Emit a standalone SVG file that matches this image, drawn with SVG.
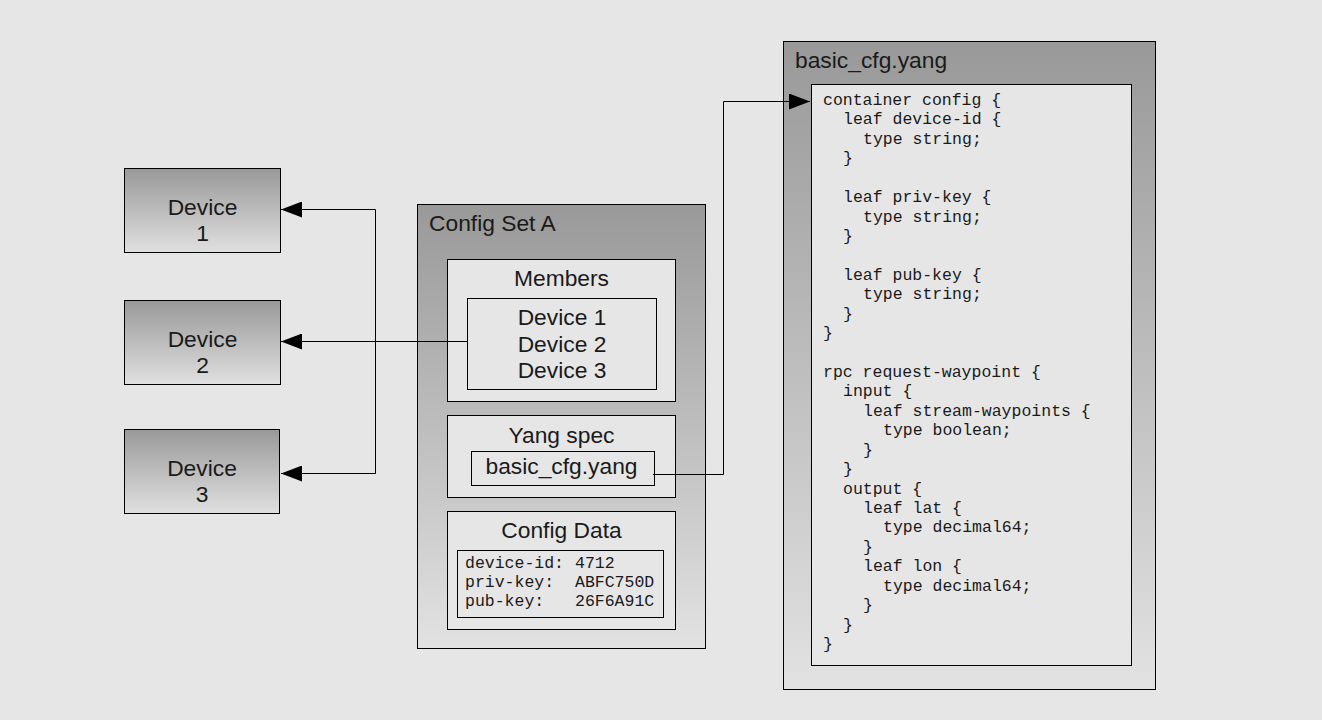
<svg xmlns="http://www.w3.org/2000/svg" width="1322" height="720" viewBox="0 0 1322 720">
<defs>
<linearGradient id="gDev" x1="0" y1="0" x2="0" y2="1">
<stop offset="0" stop-color="#999999"/>
<stop offset="1" stop-color="#e0e0e0"/>
</linearGradient>
<linearGradient id="gBig" x1="0" y1="0" x2="0" y2="1">
<stop offset="0" stop-color="#999999"/>
<stop offset="1" stop-color="#e2e2e2"/>
</linearGradient>
<marker id="arr" markerUnits="userSpaceOnUse" markerWidth="22" markerHeight="16" refX="21" refY="8" orient="auto">
<path d="M0,0 L21,8 L0,16 Z" fill="#000"/>
</marker>
</defs>
<style>
.sans{font-family:"Liberation Sans",Arial,sans-serif;font-size:22.8px;fill:#1a1a1a}
.mid{text-anchor:middle}
.mono{font-family:"Liberation Mono","Courier New",monospace;font-size:16.5px;fill:#1a1a1a}
.box{stroke:#000;stroke-width:1}
.light{fill:#e6e6e6;stroke:#000;stroke-width:1}
.conn{fill:none;stroke:#000;stroke-width:1}
</style>
<rect width="1322" height="720" fill="#e6e6e6"/>

<g id="device1">
<rect x="124.5" y="168.5" width="156" height="84" fill="url(#gDev)" class="box"/>
<text class="sans mid" x="202.5" y="215">Device</text>
<text class="sans mid" x="202.5" y="241">1</text>
</g>
<g id="device2">
<rect x="124.5" y="300.5" width="156" height="84" fill="url(#gDev)" class="box"/>
<text class="sans mid" x="202.5" y="347">Device</text>
<text class="sans mid" x="202.5" y="373">2</text>
</g>
<g id="device3">
<rect x="124.5" y="429.5" width="155" height="84" fill="url(#gDev)" class="box"/>
<text class="sans mid" x="202" y="476">Device</text>
<text class="sans mid" x="202" y="502">3</text>
</g>

<g id="configSetA">
<rect x="417.5" y="204.5" width="288" height="444" fill="url(#gBig)" class="box"/>
<text class="sans" x="429" y="231">Config Set A</text>
</g>
<g id="members">
<rect x="447.5" y="259.5" width="228" height="142" class="light"/>
<text class="sans mid" x="561.5" y="286">Members</text>
<rect x="467.5" y="298.5" width="189" height="91" class="light"/>
<text class="sans mid" x="562" y="325">Device 1</text>
<text class="sans mid" x="562" y="352">Device 2</text>
<text class="sans mid" x="562" y="378">Device 3</text>
</g>
<g id="yangSpec">
<rect x="447.5" y="415.5" width="228" height="82" class="light"/>
<text class="sans mid" x="561.5" y="443">Yang spec</text>
<rect x="471.5" y="451.5" width="183" height="34" class="light"/>
<text class="sans mid" x="561.5" y="474">basic_cfg.yang</text>
</g>
<g id="configData">
<rect x="447.5" y="511.5" width="228" height="118" class="light"/>
<text class="sans mid" x="561.5" y="538">Config Data</text>
<rect x="457.5" y="550.5" width="206" height="67" class="light"/>
<text class="mono" x="465" y="568">device-id:</text>
<text class="mono" x="575" y="568">4712</text>
<text class="mono" x="465" y="587">priv-key:</text>
<text class="mono" x="575" y="587">ABFC750D</text>
<text class="mono" x="465" y="606">pub-key:</text>
<text class="mono" x="575" y="606">26F6A91C</text>
</g>

<g id="basicCfgYang">
<rect x="783.5" y="41.5" width="372" height="648" fill="url(#gBig)" class="box"/>
<text class="sans" x="795" y="68">basic_cfg.yang</text>
<rect x="811.5" y="84.5" width="320" height="581" class="light"/>
<g class="mono">
<text x="823" y="105">container config {</text>
<text x="843" y="124.4">leaf device-id {</text>
<text x="863" y="143.9">type string;</text>
<text x="843" y="163.3">}</text>
<text x="843" y="202.1">leaf priv-key {</text>
<text x="863" y="221.6">type string;</text>
<text x="843" y="241">}</text>
<text x="843" y="279.9">leaf pub-key {</text>
<text x="863" y="299.3">type string;</text>
<text x="843" y="318.7">}</text>
<text x="823" y="338.1">}</text>
<text x="823" y="377">rpc request-waypoint {</text>
<text x="843" y="396.4">input {</text>
<text x="863" y="415.9">leaf stream-waypoints {</text>
<text x="883" y="435.3">type boolean;</text>
<text x="863" y="454.7">}</text>
<text x="843" y="474.1">}</text>
<text x="843" y="493.6">output {</text>
<text x="863" y="513">leaf lat {</text>
<text x="883" y="532.4">type decimal64;</text>
<text x="863" y="551.9">}</text>
<text x="863" y="571.3">leaf lon {</text>
<text x="883" y="590.7">type decimal64;</text>
<text x="863" y="610.1">}</text>
<text x="843" y="629.6">}</text>
<text x="823" y="649">}</text>
</g>
</g>

<g id="connectors">
<polyline class="conn" points="375.5,473.5 375.5,209.5 281,209.5" marker-end="url(#arr)"/>
<polyline class="conn" points="375.5,300 375.5,473.5 281,473.5" marker-end="url(#arr)"/>
<polyline class="conn" points="468,341.5 281,341.5" marker-end="url(#arr)"/>
<polyline class="conn" points="653,474.5 723.5,474.5 723.5,101.5 810,101.5" marker-end="url(#arr)"/>
</g>
</svg>
